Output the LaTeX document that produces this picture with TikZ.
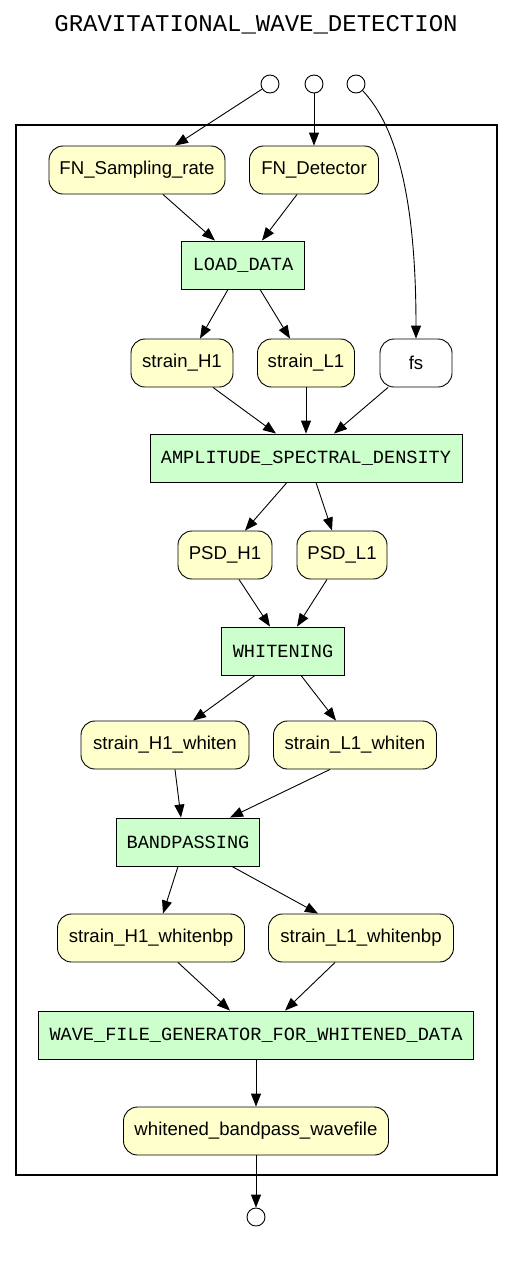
\documentclass[tikz,border=0pt]{standalone}
\usepackage{fontspec}
\setmainfont{Liberation Sans}
\newfontfamily\codefont{Liberation Mono}
\usetikzlibrary{positioning,arrows.meta}
\definecolor{datayellow}{HTML}{FFFFCC}
\definecolor{stepgreen}{HTML}{CCFFCC}
\tikzset{
  flowarrow/.style={-{Triangle[length=13pt, width=10pt]}, line width=0.9pt},
  datanode/.style={draw, line width=0.9pt, rounded corners=14pt, fill=datayellow, minimum height=48pt, inner sep=2pt, font=\fontsize{18.6}{20}\selectfont},
  paramnode/.style={datanode, fill=white},
  stepbox/.style={draw, line width=0.9pt, fill=stepgreen, minimum height=48pt, inner sep=2pt, font=\codefont\fontsize{18.6}{20}\selectfont},
  portnode/.style={draw, circle, line width=0.9pt, fill=white, minimum size=18pt, inner sep=0pt},
  clusterbox/.style={draw, line width=2.6pt}
}

\begin{document}
\begin{tikzpicture}[x=1pt, y=-1pt]
  \useasboundingbox (0,0) rectangle (512,1264);
  \node[anchor=base, font=\codefont\fontsize{24}{26}\selectfont] (title) at (256,31) {GRAVITATIONAL\_WAVE\_DETECTION};
  \draw[clusterbox] (16,125) rectangle (497,1175);

  % inputs
  \node[portnode] (inrate) at (270,84) {};
  \node[portnode] (indet) at (314,84) {};
  \node[portnode] (infs) at (356,84) {};

  % data and steps
  \node[datanode, minimum width=176pt] (fnrate) at (137,170) {FN\_Sampling\_rate};
  \node[datanode, minimum width=129pt] (fndet) at (314,170) {FN\_Detector};
  \node[stepbox, minimum width=123pt] (load) at (243,265) {LOAD\_DATA};
  \node[datanode, minimum width=102pt] (strainh) at (182,363) {strain\_H1};
  \node[datanode, minimum width=97pt] (strainl) at (306,363) {strain\_L1};
  \node[paramnode, minimum width=72pt] (fs) at (416,363) {fs};
  \node[stepbox, minimum width=312pt] (asd) at (306,458) {AMPLITUDE\_SPECTRAL\_DENSITY};
  \node[datanode, minimum width=94pt] (psdh) at (225,555) {PSD\_H1};
  \node[datanode, minimum width=90pt] (psdl) at (342,555) {PSD\_L1};
  \node[stepbox, minimum width=123pt] (whiten) at (283,651) {WHITENING};
  \node[datanode, minimum width=168pt] (whiteh) at (165,745) {strain\_H1\_whiten};
  \node[datanode, minimum width=163pt] (whitel) at (355,745) {strain\_L1\_whiten};
  \node[stepbox, minimum width=143pt] (bandpass) at (188,842) {BANDPASSING};
  \node[datanode, minimum width=187pt] (bph) at (151,938) {strain\_H1\_whitenbp};
  \node[datanode, minimum width=185pt] (bpl) at (361,938) {strain\_L1\_whitenbp};
  \node[stepbox, minimum width=435pt] (wavegen) at (256,1035) {WAVE\_FILE\_GENERATOR\_FOR\_WHITENED\_DATA};
  \node[datanode, minimum width=265pt] (wavefile) at (256,1131) {whitened\_bandpass\_wavefile};

  % output
  \node[portnode] (outfile) at (256,1217) {};

  % connectors
  \draw[flowarrow] (inrate) -- ([xshift=38pt]fnrate.north);
  \draw[flowarrow] (indet) -- (fndet.north);
  \draw[flowarrow] (infs.south east) .. controls (400,130) and (416,210) .. (fs.north);
  \draw[flowarrow] ([xshift=26pt]fnrate.south) -- ([xshift=-28pt]load.north);
  \draw[flowarrow] ([xshift=-17pt]fndet.south) -- ([xshift=19pt]load.north);
  \draw[flowarrow] ([xshift=-15pt]load.south) -- ([xshift=18pt]strainh.north);
  \draw[flowarrow] ([xshift=17pt]load.south) -- ([xshift=-16pt]strainl.north);
  \draw[flowarrow] ([xshift=31pt]strainh.south) -- ([xshift=-30pt]asd.north);
  \draw[flowarrow] (strainl.south) -- (asd.north);
  \draw[flowarrow] ([xshift=-28pt]fs.south) -- ([xshift=28pt]asd.north);
  \draw[flowarrow] ([xshift=-19pt]asd.south) -- ([xshift=20pt]psdh.north);
  \draw[flowarrow] ([xshift=10pt]asd.south) -- ([xshift=-10pt]psdl.north);
  \draw[flowarrow] ([xshift=14pt]psdh.south) -- ([xshift=-13pt]whiten.north);
  \draw[flowarrow] ([xshift=-15pt]psdl.south) -- ([xshift=14pt]whiten.north);
  \draw[flowarrow] ([xshift=-28pt]whiten.south) -- ([xshift=28pt]whiteh.north);
  \draw[flowarrow] ([xshift=18pt]whiten.south) -- ([xshift=-19pt]whitel.north);
  \draw[flowarrow] ([xshift=10pt]whiteh.south) -- ([xshift=-7pt]bandpass.north);
  \draw[flowarrow] ([xshift=-25pt]whitel.south) -- ([xshift=42pt]bandpass.north);
  \draw[flowarrow] ([xshift=-10pt]bandpass.south) -- ([xshift=12pt]bph.north);
  \draw[flowarrow] ([xshift=44pt]bandpass.south) -- ([xshift=-43pt]bpl.north);
  \draw[flowarrow] ([xshift=27pt]bph.south) -- ([xshift=-26pt]wavegen.north);
  \draw[flowarrow] ([xshift=-26pt]bpl.south) -- ([xshift=29pt]wavegen.north);
  \draw[flowarrow] (wavegen.south) -- (wavefile.north);
  \draw[flowarrow] (wavefile.south) -- (outfile.north);
\end{tikzpicture}
\end{document}
